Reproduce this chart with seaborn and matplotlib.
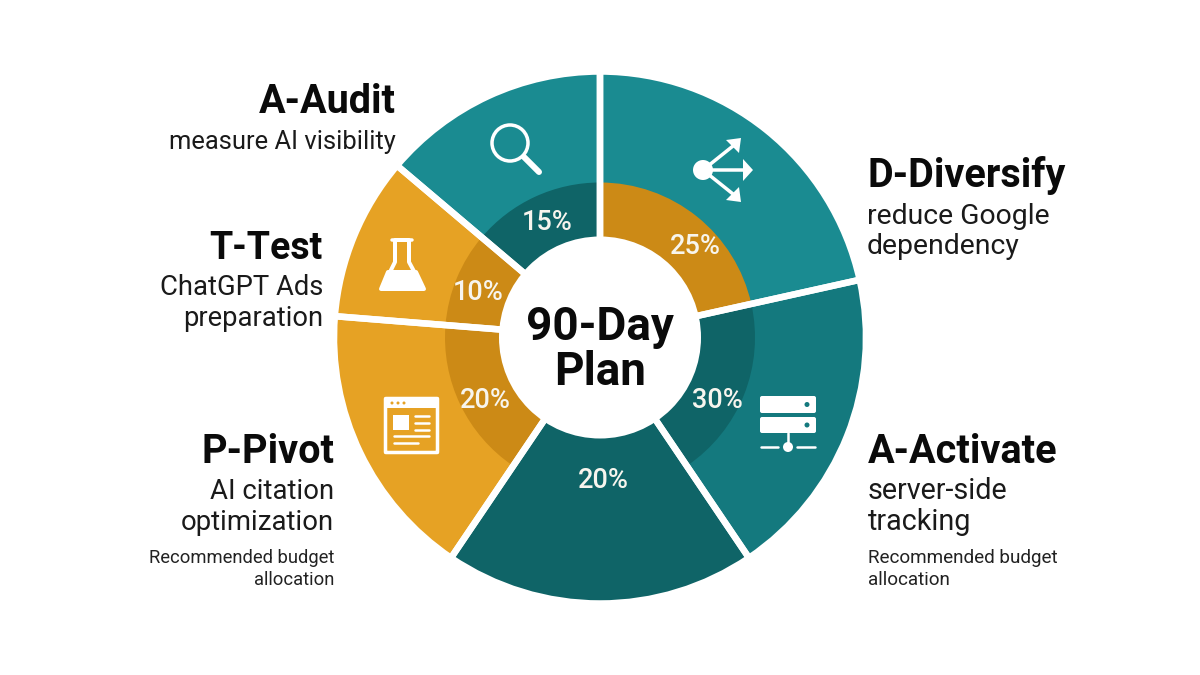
import seaborn as sns
import matplotlib.pyplot as plt
from matplotlib.patches import Circle, FancyBboxPatch, Polygon, Rectangle

# slice sizes as measured on the picture (they differ from the printed labels)
segments = ["D-Diversify", "A-Activate", "Core", "P-Pivot", "T-Test", "A-Audit"]
shares = [21.5, 19.0, 18.9, 16.8, 9.9, 13.8]
pct_labels = ["25%", "30%", "20%", "20%", "10%", "15%"]
outer_colors = ["#1A8B91", "#14797E", "#0F6467", "#E6A224", "#E6A224", "#1A8B91"]
inner_colors = ["#CC8A16", "#0F6467", "#0F6467", "#CC8A16", "#CC8A16", "#0F6467"]

center_title = ["90-Day", "Plan"]
headings = ["D-Diversify", "A-Activate", "P-Pivot", "T-Test", "A-Audit"]
subtitles = [
    ["reduce Google", "dependency"],
    ["server-side", "tracking"],
    ["AI citation", "optimization"],
    ["ChatGPT Ads", "preparation"],
    ["measure AI visibility"],
]
note_lines = ["Recommended budget", "allocation"]

W, H = 1200, 675
CX, CY = 600, 337.5
R_OUT, R_MID, R_HOLE = 263, 155, 101
GAP = 6.5 * 72 / 100
WHITE = "#FFFFFF"
FONT = "Roboto"


def fy(y):
    # picture pixels count from the top
    return H - y


sns.set_theme(style="white")
plt.rcParams["font.family"] = [FONT, "DejaVu Sans"]

fig = plt.figure(figsize=(12, 6.75), dpi=100, facecolor="white")
ax = fig.add_axes([0, 0, 1, 1])

pie_args = dict(startangle=90, counterclock=False, center=(CX, fy(CY)))
ax.pie(shares, colors=sns.color_palette(outer_colors), radius=R_OUT + 3,
       wedgeprops=dict(linewidth=0), **pie_args)
ax.pie(shares, colors=sns.color_palette(inner_colors), radius=R_MID,
       wedgeprops=dict(linewidth=0), **pie_args)
ax.pie(shares, radius=R_OUT + 3,
       wedgeprops=dict(facecolor="none", edgecolor=WHITE, linewidth=GAP), **pie_args)
ax.add_patch(Circle((CX, fy(CY)), R_HOLE, fc=WHITE, ec="none", zorder=3))

ax.set_xlim(0, W)
ax.set_ylim(0, H)
ax.set_aspect("equal")
ax.axis("off")

# percent labels
pct_pos = [(695, 246), (717, 401), (603, 480), (485, 401), (478, 292), (547, 222)]
for (px, py), lab in zip(pct_pos, pct_labels):
    ax.text(px, fy(py), lab, ha="center", va="center", color="#F7F5EE",
            fontsize=19.5, fontweight="medium", zorder=5)

# centre
ax.text(CX, fy(340), center_title[0], ha="center", va="baseline", color="#0A0A0A",
        fontsize=33, fontweight="bold", zorder=5)
ax.text(CX, fy(385), center_title[1], ha="center", va="baseline", color="#0A0A0A",
        fontsize=33, fontweight="bold", zorder=5)

# side texts: x, alignment, heading baseline, heading size, subtitle baselines, subtitle size
side = [
    (867, "left", 187, 28.5, [224, 254], 20.4),
    (868, "left", 463, 28.5, [499, 530], 20.7),
    (334, "right", 463, 28.5, [499, 530], 19.8),
    (323, "right", 259, 27, [295, 326], 19.7),
    (396, "right", 113, 28.5, [149], 18.4),
]
for head, subs, (tx, al, hy, hs, sy, fs) in zip(headings, subtitles, side):
    ax.text(tx, fy(hy), head, ha=al, va="baseline", color="#0A0A0A",
            fontsize=hs, fontweight="bold")
    for line_txt, y in zip(subs, sy):
        ax.text(tx, fy(y), line_txt, ha=al, va="baseline", color="#1A1A1A", fontsize=fs)

for tx, al, fs in [(334, "right", 13.2), (868, "left", 13.6)]:
    for line_txt, y in zip(note_lines, [563, 585]):
        ax.text(tx, fy(y), line_txt, ha=al, va="baseline", color="#222222", fontsize=fs)


# icons
def line(x0, y0, x1, y1, lw=3, color=WHITE):
    ax.plot([x0, x1], [fy(y0), fy(y1)], color=color, lw=lw * 72 / 100,
            solid_capstyle="round", zorder=6)


def poly(points, fc=WHITE, ec="none", lw=0):
    ax.add_patch(Polygon([(x, fy(y)) for x, y in points], closed=True, fc=fc, ec=ec,
                         lw=lw * 72 / 100, joinstyle="round", zorder=6))


# magnifier
ax.add_patch(Circle((510, fy(143)), 18, fc="none", ec=WHITE, lw=3.5 * 72 / 100, zorder=6))
line(524, 157, 539, 172, lw=6)

# share arrows
ax.add_patch(Circle((703, fy(170)), 10, fc=WHITE, ec="none", zorder=6))
line(703, 170, 733, 146, lw=3.5)
line(703, 170, 744, 170, lw=3.5)
line(703, 170, 733, 194, lw=3.5)
poly([(741, 138), (726, 140), (739, 153)])
poly([(753, 170), (743, 159), (743, 181)])
poly([(741, 202), (726, 200), (739, 187)])

# server
for top, bottom in [(396, 413), (417, 433)]:
    ax.add_patch(FancyBboxPatch((762, fy(bottom) + 2), 52, bottom - top - 4,
                                boxstyle="round,pad=2", fc=WHITE, ec="none", zorder=6))
    ax.add_patch(Circle((807, fy((top + bottom) / 2)), 2.5, fc="#14797E", ec="none", zorder=7))
line(788, 433, 788, 447, lw=2.5)
ax.add_patch(Circle((788, fy(447)), 5, fc=WHITE, ec="none", zorder=6))
line(761, 447, 778, 447, lw=2.5)
line(797, 447, 815, 447, lw=2.5)

# browser window
ax.add_patch(FancyBboxPatch((386, fy(452)), 51, 53, boxstyle="round,pad=0.5", fc="none",
                            ec=WHITE, lw=3.5 * 72 / 100, zorder=6))
ax.add_patch(Rectangle((385, fy(408)), 53, 10, fc=WHITE, ec="none", zorder=6))
for dx in [392, 398, 404]:
    ax.add_patch(Circle((dx, fy(403)), 1.5, fc="#E6A224", ec="none", zorder=7))
ax.add_patch(Rectangle((393, fy(430)), 16, 15, fc=WHITE, ec="none", zorder=6))
for y in [416, 423, 430]:
    line(415, y, 429, y, lw=2.5)
line(394, 436, 429, 436, lw=2.5)
line(394, 443, 418, 443, lw=2.5)

# flask
line(392, 240, 412, 240, lw=3.5)
poly([(395, 240), (409, 240), (409, 262), (423, 288), (382, 288), (395, 262)],
     fc="none", ec=WHITE, lw=4)
poly([(388, 272), (416, 272), (424, 289), (381, 289)], ec=WHITE, lw=4)

fig.savefig("out.png", dpi=100)
